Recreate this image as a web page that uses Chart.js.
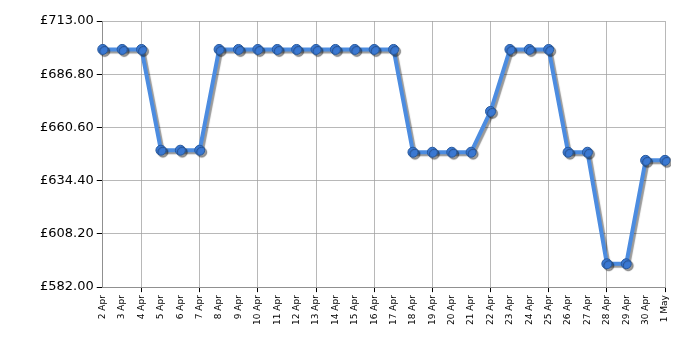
<!DOCTYPE html>
<html>
<head>
<meta charset="utf-8">
<script src="https://cdn.jsdelivr.net/npm/chart.js@4"></script>
<style>
  html, body { margin: 0; padding: 0; background: #fff; }
  #wrap { width: 700px; height: 350px; }
</style>
</head>
<body>
<div id="wrap"><canvas id="priceChart" width="700" height="350"></canvas></div>
<script>
    var dates = ['2 Apr', '3 Apr', '4 Apr', '5 Apr', '6 Apr', '7 Apr', '8 Apr', '9 Apr', '10 Apr', '11 Apr',
        '12 Apr', '13 Apr', '14 Apr', '15 Apr', '16 Apr', '17 Apr', '18 Apr', '19 Apr', '20 Apr', '21 Apr',
        '22 Apr', '23 Apr', '24 Apr', '25 Apr', '26 Apr', '27 Apr', '28 Apr', '29 Apr', '30 Apr', '1 May'];

    var prices = [699, 699, 699, 649.4, 649.4, 649.4, 699, 699, 699, 699,
        699, 699, 699, 699, 699, 699, 648.4, 648.4, 648.4, 648.4,
        668.5, 699, 699, 699, 648.4, 648.4, 593.5, 593.5, 644.4, 644.4];

    var yTicks = [582, 608.2, 634.4, 660.6, 686.8, 713];

    var gridGrey = 'rgba(160, 160, 160, 0.75)';

    // show a vertical grid line every third day, starting at 4 Apr
    function onGrid(i) {
        return (i - 2) % 3 === 0;
    }

    // grey drop shadow under the line and points
    var shadowPlugin = {
        id: 'lineShadow',
        beforeDatasetsDraw: function (chart) {
            var c = chart.ctx;
            c.save();
            c.shadowColor = 'rgba(0, 0, 0, 0.4)';
            c.shadowBlur = 1;
            c.shadowOffsetX = 2;
            c.shadowOffsetY = 2;
        },
        afterDatasetsDraw: function (chart) {
            chart.ctx.restore();
        }
    };

    var ctx = document.getElementById('priceChart').getContext('2d');

    var priceChart = new Chart(ctx, {
        type: 'line',
        data: {
            labels: dates,
            datasets: [{
                label: 'Price',
                data: prices,
                borderColor: '#4c8ce0',
                borderWidth: 4,
                tension: 0,
                pointRadius: 5,
                pointHoverRadius: 5,
                pointBackgroundColor: '#3a78d2',
                pointBorderColor: '#285a9e',
                pointBorderWidth: 1
            }]
        },
        plugins: [shadowPlugin],
        options: {
            responsive: false,
            animation: false,
            layout: {
                padding: { top: 21, right: 35, left: 37, bottom: 22 }
            },
            scales: {
                x: {
                    offset: false,
                    border: { color: '#909090', width: 1 },
                    grid: {
                        color: function (c) { return onGrid(c.index) ? gridGrey : 'rgba(0,0,0,0)'; },
                        tickColor: function (c) { return onGrid(c.index) ? '#000' : 'rgba(0,0,0,0)'; },
                        tickLength: 5,
                        drawTicks: true
                    },
                    ticks: {
                        autoSkip: false,
                        maxRotation: 90,
                        minRotation: 90,
                        color: '#000',
                        padding: 3,
                        font: { family: 'DejaVu Sans', size: 9 }
                    }
                },
                y: {
                    min: 582,
                    max: 713,
                    border: { color: '#909090', width: 1 },
                    afterBuildTicks: function (axis) {
                        axis.ticks = yTicks.map(v => ({ value: v }));
                    },
                    grid: {
                        color: gridGrey,
                        tickColor: '#000',
                        tickLength: 6
                    },
                    ticks: {
                        color: '#000',
                        padding: 3,
                        font: { family: 'DejaVu Sans', size: 13 },
                        callback: function (v) { return '£' + Number(v).toFixed(2); }
                    }
                }
            },
            plugins: {
                legend: { display: false },
                tooltip: { enabled: false }
            }
        }
    });
</script>
</body>
</html>
